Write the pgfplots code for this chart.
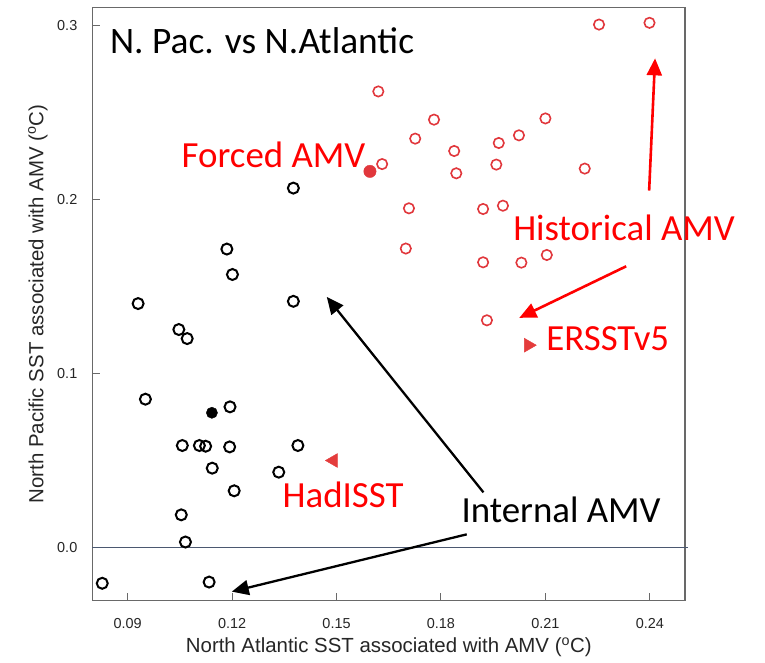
\documentclass[border=0pt]{standalone}
\usepackage{fontspec}
\setmainfont{Liberation Sans}
\newfontfamily\gill{Carlito}
\usepackage{pgfplots}
\pgfplotsset{compat=1.18}
\usetikzlibrary{arrows.meta}
\definecolor{ptred}{RGB}{225,55,60}
\definecolor{trired}{RGB}{228,60,60}
\definecolor{zeroline}{RGB}{75,88,112}
\definecolor{axgray}{RGB}{105,105,105}
\begin{document}
\begin{tikzpicture}
\begin{axis}[
  at={(0,0)}, anchor=south west,
  scale only axis, width=592.5bp, height=593.2bp,
  xmin=0.0799, xmax=0.2501, ymin=-0.0304, ymax=0.3102,
  clip=false,
  xtick={0.09,0.12,0.15,0.18,0.21,0.24},
  xticklabels={0.09,0.12,0.15,0.18,0.21,0.24},
  ytick={0,0.1,0.2,0.3},
  yticklabels={0.0,0.1,0.2,0.3},
  tick align=inside, xtick pos=bottom, ytick pos=left,
  major tick length=8bp,
  axis line style={axgray, line width=1.2bp},
  tick style={axgray, line width=1bp},
  ticklabel style={font=\fontsize{14.5}{16}\selectfont, text=black!85},
  xticklabel style={anchor=center, inner sep=0pt, yshift=-22.5bp},
  yticklabel style={anchor=east, inner sep=0pt, xshift=-15bp},
  xlabel={North Atlantic SST associated with AMV (\textsuperscript{o}C)},
  ylabel={North Pacific SST associated with AMV (\textsuperscript{o}C)},
  label style={font=\fontsize{20.5}{23}\selectfont, text=black!85},
  xlabel style={at={(axis description cs:0.5,-0.0784)}, anchor=center},
  ylabel style={at={(axis description cs:-0.092,0.5)}, anchor=center},
]
% zero reference line
\draw[zeroline, line width=1.1bp] (axis cs:0.0799,0) -- (axis cs:0.2509,0);

% Internal AMV members (open black circles)
\addplot[only marks, mark=o, mark size=5.5bp, mark options={line width=2bp, draw=black}] coordinates {
(0.1376,0.2065) (0.1185,0.1715) (0.1201,0.1569) (0.0930,0.1402) (0.1376,0.1415)
(0.1047,0.1253) (0.1071,0.1201) (0.0951,0.0853) (0.1194,0.0809) (0.1057,0.0587)
(0.1106,0.0587) (0.1124,0.0583) (0.1193,0.0579) (0.1389,0.0587) (0.1143,0.0457)
(0.1334,0.0434) (0.1206,0.0327) (0.1054,0.0189) (0.1066,0.0033) (0.0827,-0.0204)
(0.1134,-0.0197)
};
% Internal AMV mean (filled black)
\addplot[only marks, mark=*, mark size=5.6bp, mark options={draw=black, fill=black}] coordinates {(0.1142,0.0775)};

% Historical AMV members (open red circles)
\addplot[only marks, mark=o, mark size=5.2bp, mark options={line width=1.6bp, draw=ptred}] coordinates {
(0.1620,0.2620) (0.1780,0.2458) (0.1726,0.2349) (0.1838,0.2278) (0.1631,0.2203)
(0.1844,0.2150) (0.1966,0.2324) (0.2024,0.2368) (0.2100,0.2465) (0.1959,0.2200)
(0.1708,0.1949) (0.1921,0.1945) (0.1978,0.1964) (0.1699,0.1718) (0.1921,0.1639)
(0.2031,0.1637) (0.2104,0.1681) (0.1932,0.1306) (0.2254,0.3004) (0.2399,0.3014)
(0.2213,0.2177)
};
% Forced AMV (filled red)
\addplot[only marks, mark=*, mark size=6.2bp, mark options={draw=ptred, fill=ptred}] coordinates {(0.1596,0.2161)};
% HadISST (left triangle)
\addplot[only marks, mark=triangle*, mark size=8bp, mark options={draw=trired, fill=trired, rotate=90}] coordinates {(0.1491,0.0501)};
% ERSSTv5 (right triangle)
\addplot[only marks, mark=triangle*, mark size=8bp, mark options={draw=trired, fill=trired, rotate=-90}] coordinates {(0.2051,0.1163)};

% arrows
\draw[red, line width=2.6bp, -{Triangle[length=17bp, width=15bp]}] (axis cs:0.2398,0.2051) -- (axis cs:0.2415,0.2810);
\draw[red, line width=2.6bp, -{Triangle[length=17bp, width=15bp]}] (axis cs:0.2332,0.1616) -- (axis cs:0.2025,0.1320);
\draw[black, line width=2.3bp, -{Triangle[length=17bp, width=15bp]}] (axis cs:0.1922,0.0318) -- (axis cs:0.1472,0.1440);
\draw[black, line width=2.3bp, -{Triangle[length=17bp, width=15bp]}] (axis cs:0.1874,0.0077) -- (axis cs:0.1199,-0.0252);

% text
\node[anchor=base west, inner sep=0pt, font=\gill\fontsize{37.5}{40}\selectfont] at (axis cs:0.0849,0.2838) {N. Pac. vs N.Atlantic};
\node[anchor=base, inner sep=0pt, text=red, font=\gill\fontsize{37}{40}\selectfont] at (axis cs:0.1319,0.2184) {Forced AMV};
\node[anchor=base, inner sep=0pt, text=red, font=\gill\fontsize{37}{40}\selectfont] at (axis cs:0.2326,0.1764) {Historical AMV};
\node[anchor=base, inner sep=0pt, text=red, font=\gill\fontsize{37}{40}\selectfont] at (axis cs:0.2279,0.1134) {ERSSTv5};
\node[anchor=base, inner sep=0pt, text=red, font=\gill\fontsize{37}{40}\selectfont] at (axis cs:0.1519,0.0233) {HadISST};
\node[anchor=base, inner sep=0pt, font=\gill\fontsize{37}{40}\selectfont] at (axis cs:0.2145,0.0147) {Internal AMV};
\end{axis}
\pgfresetboundingbox
\path (-92.5bp,-62.3bp) rectangle (672.5bp,600.7bp);
\end{tikzpicture}
\end{document}
